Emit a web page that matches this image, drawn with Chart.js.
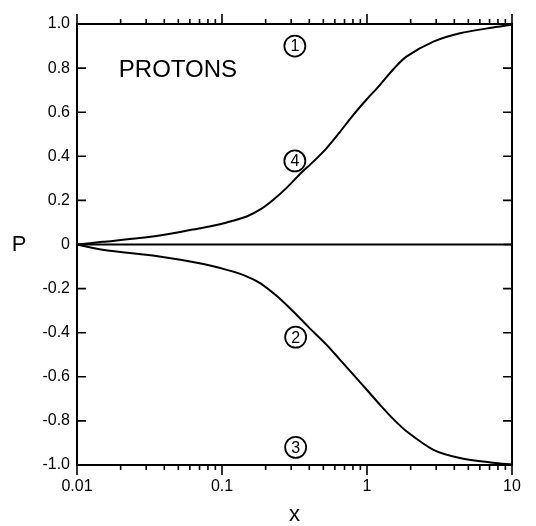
<!DOCTYPE html>
<html>
<head>
<meta charset="utf-8">
<script src="https://cdn.jsdelivr.net/npm/chart.js@4"></script>
<style>
html,body{margin:0;padding:0;background:#fff;}
#wrap{width:536px;height:526px;position:relative;}
</style>
</head>
<body>
<div id="wrap"><canvas id="c"></canvas></div>
<script>
// ---- data ----
const xCurve4 = [0.01, 0.015, 0.027, 0.045, 0.063, 0.085, 0.108, 0.148, 0.185, 0.226, 0.28, 0.345, 0.43, 0.527, 0.65, 0.805, 1.0, 1.23, 1.52, 1.88, 2.87, 4.37, 7.4, 10];
const pCurve4 = [0.0, 0.012, 0.029, 0.050, 0.068, 0.084, 0.100, 0.127, 0.160, 0.203, 0.258, 0.320, 0.378, 0.437, 0.510, 0.588, 0.660, 0.724, 0.795, 0.853, 0.920, 0.958, 0.984, 0.997];
const xCurve2 = [0.01, 0.015, 0.037, 0.07, 0.108, 0.145, 0.183, 0.24, 0.31, 0.40, 0.527, 0.65, 0.805, 1.0, 1.23, 1.52, 1.88, 2.87, 4.37, 7.4, 10];
const pCurve2 = [0.0, -0.024, -0.054, -0.085, -0.115, -0.142, -0.175, -0.235, -0.304, -0.378, -0.455, -0.522, -0.590, -0.660, -0.727, -0.792, -0.848, -0.931, -0.968, -0.990, -0.998];
const xEnds = [0.01, 10];
const pCurve1 = [1, 1];
const pCurve3 = [-1, -1];
const pZero = [0, 0];
const xMajorTicks = [0.01, 0.1, 1, 10];
const xMinorTicks = [0.02,0.03,0.04,0.05,0.06,0.07,0.08,0.09,0.2,0.3,0.4,0.5,0.6,0.7,0.8,0.9,2,3,4,5,6,7,8,9];
const curveLabels = ['1', '2', '3', '4'];
const curveLabelX = [0.318, 0.322, 0.322, 0.318];
const curveLabelP = [0.90, -0.42, -0.92, 0.379];
const titleText = 'PROTONS';
const titleX = 0.0497, titleP = 0.79;
const yAxisTitle = 'P', xAxisTitle = 'x';

const pts = (xs, ys) => xs.map((x, i) => ({x: x, y: ys[i]}));
const lineDs = (data) => ({data, borderColor:'#000', borderWidth:2, pointRadius:0, showLine:true, fill:false, tension:0.3, clip:false});

const decor = {
  id: 'decor',
  afterDraw(chart) {
    const {ctx, chartArea: a, scales: {x, y}} = chart;
    ctx.save();
    ctx.strokeStyle = '#000';
    ctx.fillStyle = '#000';
    ctx.lineWidth = 2;
    ctx.strokeRect(a.left, a.top, a.right - a.left, a.bottom - a.top);
    ctx.lineWidth = 1.6;
    ctx.beginPath();
    y.ticks.forEach(t => {
      const py = y.getPixelForValue(t.value);
      ctx.moveTo(a.left, py); ctx.lineTo(a.left + 9, py);
      ctx.moveTo(a.right, py); ctx.lineTo(a.right - 9, py);
    });
    const xt = (v, len) => {
      const px = x.getPixelForValue(v);
      ctx.moveTo(px, a.bottom); ctx.lineTo(px, a.bottom + len);
      ctx.moveTo(px, a.top); ctx.lineTo(px, a.top - len);
    };
    xMinorTicks.forEach(v => xt(v, 5));
    xMajorTicks.forEach(v => xt(v, 10));
    ctx.stroke();

    ctx.textAlign = 'center';
    ctx.textBaseline = 'middle';
    ctx.font = '24px "Liberation Sans", Arial, sans-serif';
    ctx.fillText(titleText, x.getPixelForValue(titleX), y.getPixelForValue(titleP));

    ctx.font = '22px "Liberation Sans", Arial, sans-serif';
    ctx.fillText(yAxisTitle, 19, y.getPixelForValue(0));
    ctx.fillText(xAxisTitle, (a.left + a.right) / 2, 515);

    curveLabels.forEach((s, i) => {
      const cx = x.getPixelForValue(curveLabelX[i]);
      const cy = y.getPixelForValue(curveLabelP[i]);
      ctx.lineWidth = 1.8;
      ctx.beginPath();
      ctx.arc(cx, cy, 10.5, 0, Math.PI * 2);
      ctx.stroke();
      ctx.font = '16px "Liberation Sans", Arial, sans-serif';
      ctx.fillText(s, cx, cy + 1);
    });
    ctx.restore();
  }
};

new Chart(document.getElementById('c'), {
  type: 'scatter',
  data: {
    datasets: [
      lineDs(pts(xEnds, pZero)),
      lineDs(pts(xEnds, pCurve1)),
      lineDs(pts(xEnds, pCurve3)),
      lineDs(pts(xCurve4, pCurve4)),
      lineDs(pts(xCurve2, pCurve2))
    ]
  },
  options: {
    responsive: true,
    maintainAspectRatio: false,
    animation: false,
    layout: {padding: {top: 24, right: 24, left: 0, bottom: 0}},
    plugins: {legend: {display: false}, tooltip: {enabled: false}},
    scales: {
      x: {
        type: 'logarithmic', min: 0.01, max: 10,
        grid: {display: false, drawTicks: false},
        border: {display: false},
        afterBuildTicks: s => { s.ticks = xMajorTicks.map(v => ({value: v})); },
        afterFit: s => { s.height = 61; },
        ticks: {
          padding: 12, autoSkip: false, maxRotation: 0, color: '#000',
          font: {family: '"Liberation Sans", Arial, sans-serif', size: 16},
          callback: v => String(v)
        }
      },
      y: {
        min: -1, max: 1,
        grid: {display: false, drawTicks: false},
        border: {display: false},
        afterFit: s => { s.width = 77; },
        ticks: {
          stepSize: 0.2, padding: 7, color: '#000',
          font: {family: '"Liberation Sans", Arial, sans-serif', size: 16},
          callback: v => Math.abs(v) < 1e-9 ? '0' : v.toFixed(1)
        }
      }
    }
  },
  plugins: [decor]
});
</script>
</body>
</html>
